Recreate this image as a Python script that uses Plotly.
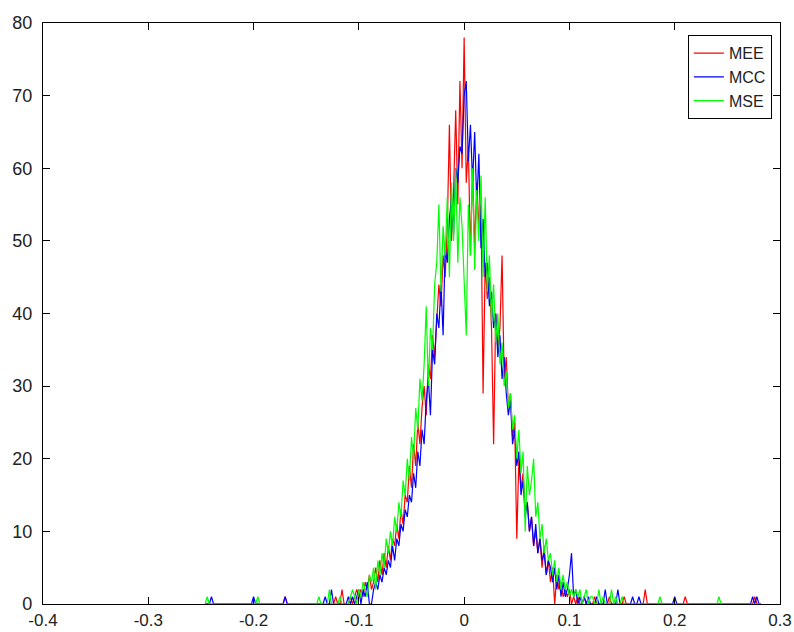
import numpy as np
import plotly.graph_objects as go

# Histogram bin grid (bin centres)
START = -0.246
STEP = 0.002
N_BINS = 265

# Core region of each error histogram: bins from -0.110 to 0.120
CORE_START = -0.110
mee_core = [0, 1, 0, 1, 2, 1, 2, 1, 3, 2,
            4, 2, 3, 5, 3, 6, 4, 7, 5, 8,
            6, 9, 8, 11, 9, 13, 11, 15, 14, 19,
            16, 22, 19, 25, 22, 27, 30, 26, 33, 31,
            37, 34, 40, 44, 41, 48, 45, 52, 66, 50,
            57, 68, 55, 72, 60, 78, 58, 63, 48, 60,
            49, 58, 52, 55, 29, 47, 42, 45, 38, 22,
            40, 35, 38, 48, 31, 34, 27, 29, 23, 25,
            9, 20, 16, 18, 13, 14, 10, 12, 8, 10,
            7, 9, 5, 8, 4, 6, 3, 5, 0, 4,
            2, 3, 1, 2, 1, 2, 0, 1, 0, 1,
            0, 0, 1, 0, 0, 0]
mcc_core = [1, 0, 1, 0, 1, 2, 0, 2, 1, 3,
            0, 0, 2, 3, 2, 4, 3, 5, 4, 6,
            5, 8, 6, 9, 8, 11, 10, 13, 12, 15,
            14, 18, 16, 21, 19, 24, 22, 28, 31, 26,
            35, 33, 40, 38, 44, 37, 49, 47, 53, 56,
            51, 60, 58, 63, 62, 70, 72, 61, 66, 58,
            65, 55, 62, 49, 53, 45, 47, 41, 43, 38,
            40, 34, 37, 31, 34, 29, 26, 28, 22, 24,
            19, 21, 15, 17, 12, 14, 10, 12, 8, 11,
            7, 9, 6, 7, 4, 6, 5, 3, 5, 2,
            4, 1, 3, 1, 2, 4, 7, 1, 2, 0,
            1, 0, 1, 0, 1, 0]
mse_core = [0, 1, 2, 1, 0, 2, 1, 3, 2, 1,
            4, 3, 5, 2, 6, 4, 7, 5, 9, 7,
            10, 8, 12, 10, 14, 12, 17, 15, 20, 17,
            23, 20, 27, 24, 31, 28, 33, 41, 30, 38,
            35, 44, 47, 55, 43, 52, 48, 56, 45, 58,
            50, 60, 47, 56, 52, 44, 37, 55, 48, 60,
            46, 57, 50, 59, 45, 56, 43, 48, 39, 44,
            36, 40, 33, 36, 30, 32, 27, 29, 24, 26,
            20, 24, 18, 21, 10, 19, 15, 17, 20, 12,
            14, 9, 11, 7, 9, 6, 7, 4, 6, 3,
            5, 2, 4, 2, 3, 1, 2, 1, 2, 1,
            2, 0, 1, 2, 0, 1]

# Isolated outlier counts in the tails: (bin centre, count)
mee_tails = [(-0.170, 1), (-0.122, 1), (-0.116, 2), (0.124, 1), (0.138, 1),
             (0.152, 1), (0.172, 2), (0.210, 1), (0.276, 1)]
mcc_tails = [(-0.240, 1), (-0.200, 1), (-0.170, 1), (-0.132, 1), (-0.126, 2),
             (0.126, 1), (0.134, 2), (0.146, 2), (0.160, 1), (0.166, 1),
             (0.200, 1), (0.274, 1), (0.278, 1)]
mse_tails = [(-0.244, 1), (-0.196, 1), (-0.138, 1), (-0.128, 2), (-0.118, 1),
             (0.122, 1), (0.128, 2), (0.132, 1), (0.140, 2), (0.144, 1),
             (0.150, 1), (0.186, 1), (0.242, 1)]

series_names = ["MEE", "MCC", "MSE"]
series_colors = ["#ff0000", "#0000ff", "#00ff00"]

x_ticks = [-0.4, -0.3, -0.2, -0.1, 0, 0.1, 0.2, 0.3]
x_ticktext = ["-0.4", "-0.3", "-0.2", "-0.1", "0", "0.1", "0.2", "0.3"]
y_ticks = [0, 10, 20, 30, 40, 50, 60, 70, 80]

bins = START + STEP * np.arange(N_BINS)


def bin_index(xv):
    return int(round((xv - START) / STEP))


def build_counts(core, tails):
    counts = np.zeros(N_BINS)
    i0 = bin_index(CORE_START)
    counts[i0:i0 + len(core)] = core
    for xv, c in tails:
        counts[bin_index(xv)] = c
    return counts


all_counts = [build_counts(mee_core, mee_tails),
              build_counts(mcc_core, mcc_tails),
              build_counts(mse_core, mse_tails)]

fig = go.Figure()
for name, color, counts in zip(series_names, series_colors, all_counts):
    fig.add_trace(go.Scatter(x=bins, y=counts, mode="lines", name=name,
                             line=dict(color=color, width=1.2)))

axis_style = dict(showline=True, linecolor="black", linewidth=1.2, mirror="ticks",
                  ticks="inside", ticklen=7, tickcolor="black", tickwidth=1,
                  showgrid=False, zeroline=False, automargin=False)

fig.update_xaxes(range=[-0.4, 0.3], tickvals=x_ticks, ticktext=x_ticktext,
                 ticklabelstandoff=0, tickfont=dict(size=17, color="#222222"),
                 **axis_style)
fig.update_yaxes(range=[0, 80], tickvals=y_ticks, ticklabelstandoff=6,
                 tickfont=dict(size=18, color="#222222"), **axis_style)

fig.update_layout(
    width=794, height=632,
    margin=dict(l=43, r=14, t=23, b=28),
    plot_bgcolor="white", paper_bgcolor="white",
    font=dict(family="Liberation Sans, Arial, sans-serif", size=17, color="#222222"),
    legend=dict(x=0.989, xanchor="right", y=0.979, yanchor="top",
                bgcolor="white", bordercolor="black", borderwidth=1,
                font=dict(size=16), tracegroupgap=0),
)

fig.write_html("out.html")
